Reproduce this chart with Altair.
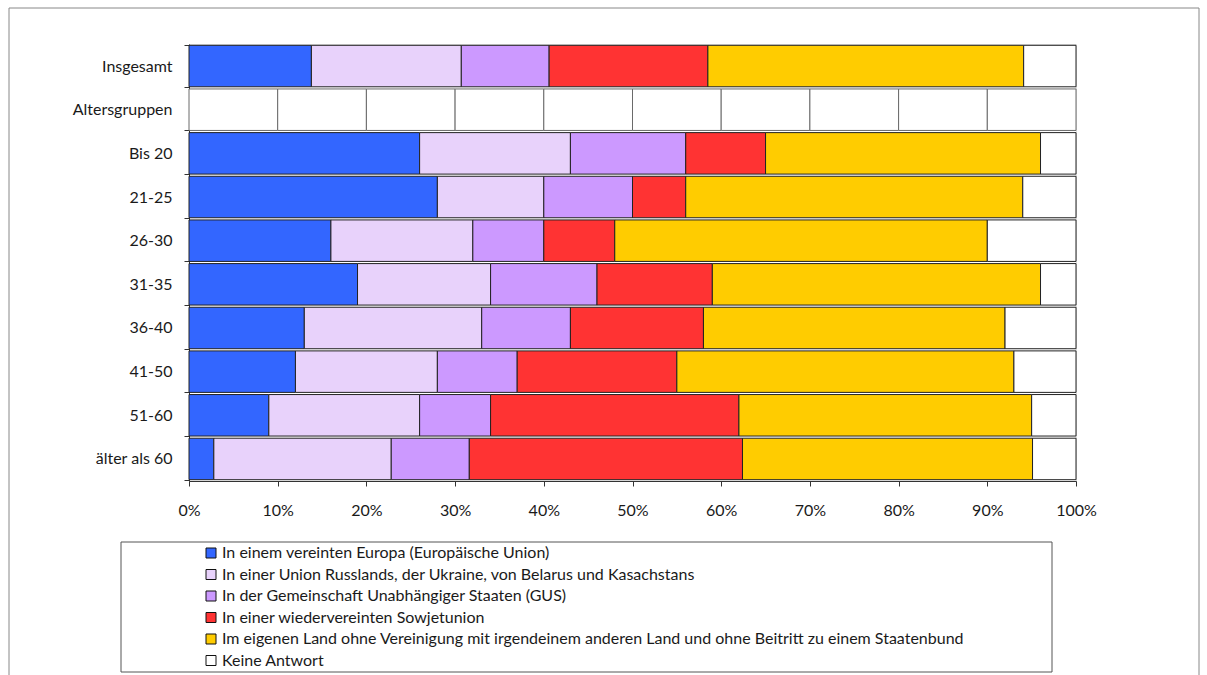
import altair as alt
import pandas as pd

# Rows of the chart, top to bottom ("Altersgruppen" is a header row)
categories = ["Insgesamt", "Altersgruppen", "Bis 20", "21-25", "26-30",
              "31-35", "36-40", "41-50", "51-60", "älter als 60"]
data_rows = ["Insgesamt", "Bis 20", "21-25", "26-30", "31-35",
             "36-40", "41-50", "51-60", "älter als 60"]

series = [
    "In einem vereinten Europa (Europäische Union)",
    "In einer Union Russlands, der Ukraine, von Belarus und Kasachstans",
    "In der Gemeinschaft Unabhängiger Staaten (GUS)",
    "In einer wiedervereinten Sowjetunion",
    "Im eigenen Land ohne Vereinigung mit irgendeinem anderen Land und ohne Beitritt zu einem Staatenbund",
    "Keine Antwort",
]
colors = ["#3366ff", "#e8d2fb", "#cc99ff", "#ff3333", "#ffcc00", "#ffffff"]

# Shares in percent, one list per answer, in the order of data_rows
eu = [13.8, 26, 28, 16, 19, 13, 12, 9, 2.8]
union4 = [16.9, 17, 12, 16, 15, 20, 16, 17, 20.0]
gus = [9.9, 13, 10, 8, 12, 10, 9, 8, 8.8]
ussr = [17.9, 9, 6, 8, 13, 15, 18, 28, 30.8]
own_country = [35.6, 31, 38, 42, 37, 34, 38, 33, 32.7]
no_answer = [5.9, 4, 6, 10, 4, 8, 7, 5, 4.9]

# Empty cells of the header row
header_cells = [10, 10, 10, 10, 10, 10, 10, 10, 10, 10]

tick_values = [0, 10, 20, 30, 40, 50, 60, 70, 80, 90, 100]

records = []
for idx, (name, vals) in enumerate(zip(series, [eu, union4, gus, ussr, own_country, no_answer])):
    for row, v in zip(data_rows, vals):
        records.append({"Gruppe": row, "Antwort": name, "idx": idx, "Anteil": v})
df = pd.DataFrame(records)

header_df = pd.DataFrame({
    "Gruppe": ["Altersgruppen"] * len(header_cells),
    "Zelle": list(range(len(header_cells))),
    "Anteil": header_cells,
})

FONT = "Lato"
TEXT = "#1a1a1a"

y_enc = alt.Y(
    "Gruppe:N",
    sort=categories,
    scale=alt.Scale(domain=categories, paddingInner=0.05, paddingOuter=0.03),
    axis=alt.Axis(
        title=None, tickBand="extent", tickSize=5, tickColor="#333",
        domainColor="#333", labelPadding=12, labelFontSize=16,
        labelColor=TEXT, labelFont=FONT,
    ),
)
x_scale = alt.Scale(domain=[0, 100], nice=False)

bars = alt.Chart(df).mark_bar(stroke="#222222", strokeWidth=1).encode(
    y=y_enc,
    x=alt.X(
        "Anteil:Q", stack="zero", scale=x_scale,
        axis=alt.Axis(
            title=None, values=tick_values, labelExpr="datum.value + '%'",
            grid=False, tickSize=5, tickColor="#333", domainColor="#333",
            labelFlush=False, labelPadding=16, labelFontSize=16,
            labelColor=TEXT, labelFont=FONT,
        ),
    ),
    color=alt.Color(
        "Antwort:N", sort=series,
        scale=alt.Scale(domain=series, range=colors),
        legend=alt.Legend(
            title=None, orient="none", legendX=14, legendY=501,
            direction="vertical", columns=1,
            symbolType="square", symbolSize=100,
            symbolStrokeColor="#111", symbolStrokeWidth=1,
            labelFontSize=16, labelFont=FONT, labelColor=TEXT,
            labelLimit=0, labelOffset=3, rowPadding=5.5,
        ),
    ),
    order=alt.Order("idx:Q"),
)

header = alt.Chart(header_df).mark_bar(color="white", stroke="#6a6a6a", strokeWidth=1).encode(
    y=alt.Y("Gruppe:N", sort=categories),
    x=alt.X("Anteil:Q", stack="zero"),
    order=alt.Order("Zelle:Q"),
)

one = pd.DataFrame({"k": [0]})

# Box drawn around the legend
legend_box = alt.Chart(one).mark_rect(fill="transparent", stroke="#555", strokeWidth=1).encode(
    x=alt.value(-68), x2=alt.value(863), y=alt.value(498), y2=alt.value(628),
)

# Outer frame of the figure
frame = alt.Chart(one).mark_rect(fill="transparent", stroke="#888", strokeWidth=1).encode(
    x=alt.value(-180), x2=alt.value(1010), y=alt.value(-36), y2=alt.value(660),
)

chart = alt.layer(frame, bars, header, legend_box).properties(
    width=887,
    height=437,
    autosize=alt.AutoSizeParams(type="none"),
    padding={"left": 189, "top": 44, "right": 131, "bottom": 194},
    background="white",
).configure_view(
    fill="#4a4a4a", stroke="#9a9a9a", strokeWidth=2,
).configure(font=FONT)

chart.save("out.html", embed_options={"renderer": "svg", "actions": False})
